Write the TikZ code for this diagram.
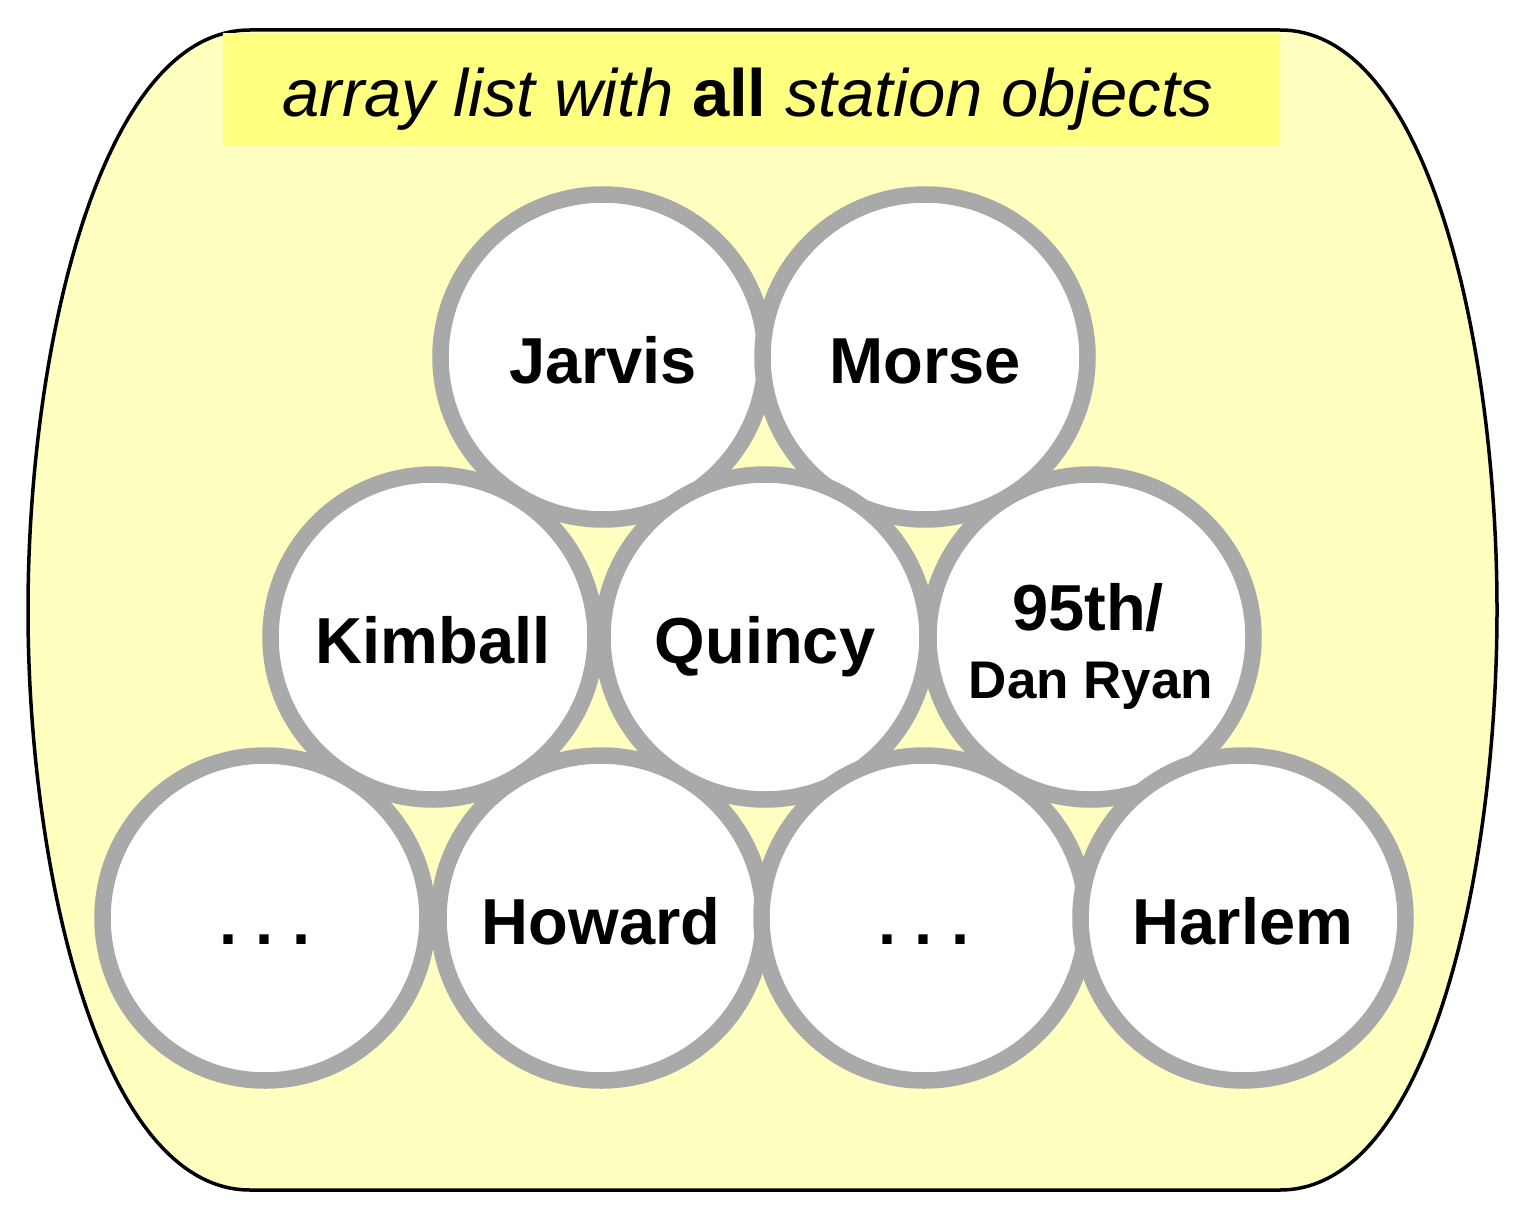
\documentclass[tikz,border=0pt]{standalone}
\usepackage{fontspec}
\setmainfont{Liberation Sans}
\definecolor{bagfill}{HTML}{FFFFC0}
\definecolor{titlefill}{HTML}{FFFF80}
\definecolor{ringgray}{HTML}{A9A9A9}
\begin{document}
\begin{tikzpicture}[x=1pt,y=-1pt,
  station/.style={circle,draw=ringgray,fill=white,line width=16.5pt,
    minimum size=325pt,inner sep=0pt,font=\fontsize{65}{78}\selectfont\bfseries,
    text height=52pt,text depth=0pt},
  titlebox/.style={fill=titlefill,draw=none}]
\useasboundingbox (0,0) rectangle (1524,1220);
% container
\path[fill=bagfill,draw=black,line width=3.5pt]
  (250,30) -- (1280,30)
  .. controls (1430,30) and (1497,350) .. (1497,610)
  .. controls (1497,870) and (1430,1190) .. (1280,1190)
  -- (250,1190)
  .. controls (100,1190) and (28,870) .. (28,610)
  .. controls (28,350) and (100,30) .. (250,30) -- cycle;
% title
\fill[titlefill] (223,33) rectangle (1280,146);
\node[anchor=base,inner sep=0pt,font=\fontsize{67}{80}\selectfont\itshape] (title) at (748,117)
  {array list with {\upshape\bfseries all} station objects};
% top row
\node[station] (jarvis) at (603,357) {Jarvis};
\node[station] (morse) at (925,357) {Morse};
% middle row
\node[station] (kimball) at (433,637) {Kimball};
\node[station] (quincy) at (765,637) {Quincy};
\node[station] (c95) at (1091,637) {};
\node[anchor=base,inner sep=0pt,font=\fontsize{65}{78}\selectfont\bfseries] (t95a) at (1088,630) {95th/};
\node[anchor=base,inner sep=0pt,font=\fontsize{53}{64}\selectfont\bfseries] (t95b) at (1091,698) {Dan Ryan};
% bottom row
\node[station] (dotsa) at (265,918) {.\ .\ .};
\node[station] (howard) at (601,918) {Howard};
\node[station] (dotsb) at (924,918) {.\ .\ .};
\node[station] (harlem) at (1243,918) {Harlem};
\end{tikzpicture}
\end{document}
